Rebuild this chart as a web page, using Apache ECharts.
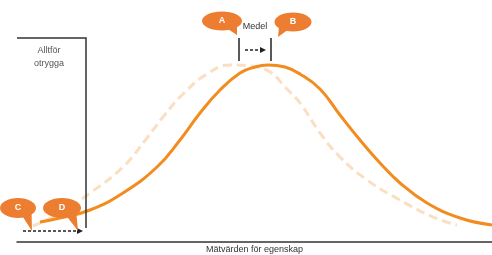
<!DOCTYPE html>
<html lang="sv">
<head>
    <meta charset="UTF-8">
    <title>Mätvärden för egenskap</title>
    <script src="https://cdn.jsdelivr.net/npm/echarts@6/dist/echarts.min.js"></script>
    <style>
        html, body { margin: 0; padding: 0; background: #fff; }
        #chart { width: 492px; height: 255px; }
    </style>
</head>
<body>
<div id="chart"></div>
<script>
    // fördelning efter förändringen (heldragen)
    var xAfter = [4.6, 8.6, 14.6, 21.2, 28, 32.6, 36.6, 40.6, 44.6, 47.6, 50.2, 53.6, 56.6, 60.6, 64.6, 68.6, 72.6, 76.6, 82, 88.6, 95];
    var yAfter = [10, 12, 16, 24.5, 37.5, 51, 64.5, 76, 84.5, 87.5, 88.5, 87.5, 84, 76.5, 63.5, 51, 39.5, 29.5, 19.5, 12, 8.5];
    // fördelning före (streckad)
    var xBefore = [3.2, 8.6, 14.6, 21.2, 26, 29.2, 33.2, 38, 42.6, 46.6, 50.6, 53.6, 56.6, 60.6, 64.6, 70, 76.6, 83.2, 88];
    var yBefore = [8, 14.5, 24.5, 37.5, 52, 62.5, 74, 84, 88.5, 88, 85, 77.5, 69.5, 54.5, 42.5, 31, 21, 12.5, 8.5];

    var threshold = 13.8;          // gräns "Alltför otrygga"
    var meanBefore = 44.4;
    var meanAfter = 50.8;
    var axisName = 'Mätvärden för egenskap';
    var limitLabel = 'Alltför\notrygga';
    var meanLabel = 'Medel';

    function zip(xs, ys) {
        var out = [];
        for (var i = 0; i < xs.length; i++) out.push([xs[i], ys[i]]);
        return out;
    }

    var orange = '#F28C1E';
    var bubbleColor = '#ED7D31';

    var myChart = echarts.init(document.getElementById('chart'));
    myChart.setOption({
        animation: false,
        grid: { left: 17, right: 0, top: 0, bottom: 13, outerBoundsMode: 'none', containLabel: false },
        xAxis: {
            type: 'value', min: 0, max: 95,
            axisLine: { show: true, lineStyle: { color: '#333', width: 1.5 } },
            axisTick: { show: false }, axisLabel: { show: false }, splitLine: { show: false },
            name: axisName, nameLocation: 'middle', nameGap: 3,
            nameTextStyle: { fontSize: 9, color: '#333', fontFamily: 'Liberation Sans', verticalAlign: 'top' }
        },
        yAxis: { type: 'value', min: 0, max: 121, show: false },
        series: [
            {
                type: 'line', smooth: 0.45, symbol: 'none', z: 2,
                data: zip(xBefore, yBefore),
                lineStyle: { color: '#FADFC2', width: 3, type: [9, 5] }
            },
            {
                type: 'line', smooth: 0.45, symbol: 'none', z: 3,
                data: zip(xAfter, yAfter),
                lineStyle: { color: orange, width: 3 }
            }
        ]
    });

    function px(u, v) { return myChart.convertToPixel({ gridIndex: 0 }, [u, v]); }

    function arrow(u1, u2, v) {
        var a = px(u1, v), b = px(u2, v);
        return [
            { type: 'line', z: 100, shape: { x1: a[0], y1: a[1], x2: b[0] - 4, y2: b[1] },
              style: { stroke: '#222', lineWidth: 1.3, lineDash: [3, 2] } },
            { type: 'polygon', z: 100, shape: { points: [[b[0] - 5, b[1] - 3], [b[0] + 1, b[1]], [b[0] - 5, b[1] + 3]] },
              style: { fill: '#222' } }
        ];
    }

    function bubble(label, cu, cv, tu, tv, rx, ry) {
        var c = px(cu, cv), t = px(tu, tv);
        var side = t[0] > c[0] ? 1 : -1;
        return [
            { type: 'polygon', z: 100, shape: { points: [[c[0] + side * rx * 0.2, c[1] + ry * 0.7], t, [c[0] + side * rx * 0.75, c[1] + ry * 0.4]] },
              style: { fill: bubbleColor } },
            { type: 'ellipse', z: 100, shape: { cx: c[0], cy: c[1], rx: rx, ry: ry }, style: { fill: bubbleColor } },
            { type: 'text', z: 101, x: c[0], y: c[1],
              style: { text: label, fill: '#fff', fontSize: 9, fontWeight: 'bold', fontFamily: 'Liberation Sans', align: 'center', verticalAlign: 'middle' } }
        ];
    }

    var g = [];
    var b1 = px(0, 102), b2 = px(threshold, 102), b3 = px(threshold, 7);
    g.push({ type: 'polyline', z: 100, shape: { points: [b1, b2, b3] }, style: { stroke: '#333', lineWidth: 1.5, fill: null } });
    var lp = px(6.4, 99);
    g.push({ type: 'text', z: 100, x: lp[0], y: lp[1],
             style: { text: limitLabel, fill: '#555', fontSize: 9, lineHeight: 13, fontFamily: 'Liberation Sans', align: 'center', verticalAlign: 'top' } });

    [meanBefore, meanAfter].forEach(function (m) {
        var p1 = px(m, 102), p2 = px(m, 90.5);
        g.push({ type: 'line', z: 100, shape: { x1: p1[0], y1: p1[1], x2: p2[0], y2: p2[1] }, style: { stroke: '#222', lineWidth: 1.5 } });
    });
    g = g.concat(arrow(meanBefore + 1.2, meanAfter - 1.2, 96));
    var mp = px((meanBefore + meanAfter) / 2, 107.5);
    g.push({ type: 'text', z: 100, x: mp[0], y: mp[1],
             style: { text: meanLabel, fill: '#333', fontSize: 9, fontFamily: 'Liberation Sans', align: 'center', verticalAlign: 'middle' } });

    g = g.concat(arrow(1.2, threshold - 0.8, 5.5));

    g = g.concat(bubble('A', 41, 110.5, 44, 103.5, 20, 9.5));
    g = g.concat(bubble('B', 55.2, 110, 52.2, 102.5, 18.5, 9.5));
    g = g.concat(bubble('C', 0.2, 17, 3, 5.5, 18, 10));
    g = g.concat(bubble('D', 9, 17, 12.2, 5.5, 19, 10));

    myChart.setOption({ graphic: g });
</script>
</body>
</html>
